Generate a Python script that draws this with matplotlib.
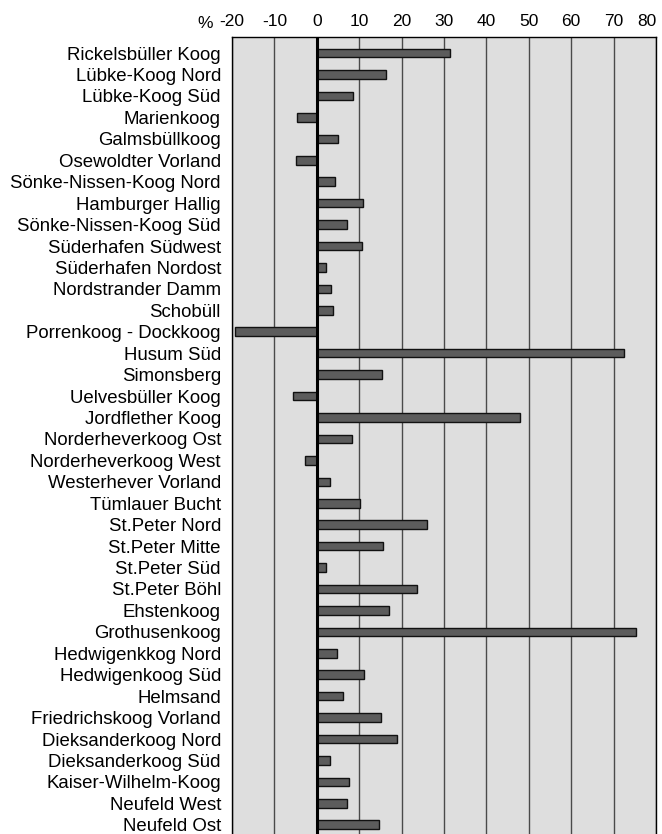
#!/usr/bin/env python3
"""Horizontal bar chart of percentage change per coastal site."""

import matplotlib.pyplot as plt
from matplotlib import font_manager

SITES = [
    "Rickelsbüller Koog", "Lübke-Koog Nord", "Lübke-Koog Süd", "Marienkoog",
    "Galmsbüllkoog", "Osewoldter Vorland", "Sönke-Nissen-Koog Nord",
    "Hamburger Hallig", "Sönke-Nissen-Koog Süd", "Süderhafen Südwest",
    "Süderhafen Nordost", "Nordstrander Damm", "Schobüll",
    "Porrenkoog - Dockkoog", "Husum Süd", "Simonsberg", "Uelvesbüller Koog",
    "Jordflether Koog", "Norderheverkoog Ost", "Norderheverkoog West",
    "Westerhever Vorland", "Tümlauer Bucht", "St.Peter Nord", "St.Peter Mitte",
    "St.Peter Süd", "St.Peter Böhl", "Ehstenkoog", "Grothusenkoog",
    "Hedwigenkkog Nord", "Hedwigenkoog Süd", "Helmsand",
    "Friedrichskoog Vorland", "Dieksanderkoog Nord", "Dieksanderkoog Süd",
    "Kaiser-Wilhelm-Koog", "Neufeld West", "Neufeld Ost",
]
CHANGE_PCT = [
    31.4, 16.3, 8.5, -4.6,
    5.0, -5.0, 4.4,
    10.8, 7.0, 10.7,
    2.2, 3.3, 3.7,
    -19.3, 72.4, 15.3, -5.6,
    47.9, 8.3, -2.7,
    3.0, 10.2, 26.0, 15.6,
    2.2, 23.7, 17.1, 75.2,
    4.7, 11.1, 6.2,
    15.2, 19.0, 3.2,
    7.7, 7.0, 14.6,
]
X_TICKS = list(range(-20, 81, 10))


def _pick_font(names):
    installed = {f.name for f in font_manager.fontManager.ttflist}
    for n in names:
        if n in installed:
            return n
    return "DejaVu Sans"


LABEL_FONT = _pick_font(["Liberation Sans", "Arial", "DejaVu Sans"])
TICK_FONT = _pick_font(["Liberation Sans Narrow", "Liberation Sans", "DejaVu Sans"])

fig = plt.figure(figsize=(6.62, 8.34), dpi=100)
ax = fig.add_axes([0.3505, 0.0, 0.6405, 0.9556])
ax.set_facecolor("#dedede")

y = list(range(len(SITES)))
ax.barh(y, CHANGE_PCT, height=0.4, color="#5c5c5c", edgecolor="#111111",
        linewidth=1.0, zorder=3)

for t in X_TICKS:
    if t == 0:
        continue
    ax.axvline(t, color="#4a4a4a", linewidth=1.0, zorder=1)
ax.axvline(0, color="black", linewidth=2.2, zorder=4)

ax.set_xlim(-20, 80)
ax.set_ylim(len(SITES) - 1 + 0.43, -0.75)

ax.xaxis.tick_top()
ax.set_xticks(X_TICKS)
ax.set_xticklabels([str(t) for t in X_TICKS], family=TICK_FONT, fontsize=12.5)
ax.tick_params(axis="x", length=0, pad=6)
# last label would run past the figure edge, so right-align it on its gridline
ax.get_xticklabels()[-1].set_horizontalalignment("right")

ax.set_yticks(y)
ax.set_yticklabels(SITES, family=LABEL_FONT, fontsize=13.4)
ax.tick_params(axis="y", length=0, pad=8)

for side in ("top", "left", "right"):
    ax.spines[side].set_color("black")
    ax.spines[side].set_linewidth(1.0)
ax.spines["bottom"].set_visible(False)

fig.text(205 / 662, 1 - 23 / 834, "%", family=TICK_FONT, fontsize=12.5,
         ha="center", va="center")

fig.savefig("out.png", dpi=100)
